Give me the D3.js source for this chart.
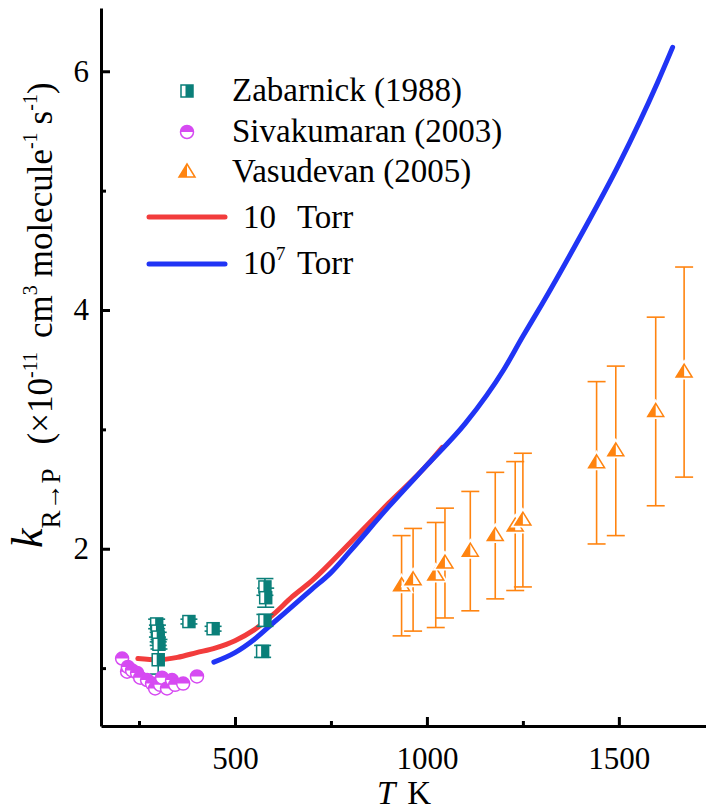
<!DOCTYPE html>
<html>
<head>
<meta charset="utf-8">
<script src="https://cdn.jsdelivr.net/npm/d3@7"></script>
<style>
  body { margin: 0; background: #fff; }
  svg { display: block; }
</style>
</head>
<body>
<svg id="chart" width="706" height="811" style="font-family: 'Liberation Serif', Tinos, 'Times New Roman', serif"></svg>
<script>
// Axis ticks
const xMajorTicks = [500, 1000, 1500];
const xMinorTicks = [250, 750, 1250];
const yMajorTicks = [2, 4, 6];
const yMinorTicks = [1, 3, 5];

// Calculated rate constant, 10 Torr
const lowPT = [247, 300, 350, 400, 450, 500, 550, 600, 650, 700, 800, 900, 1000, 1040];
const lowPK = [1.08, 1.07, 1.09, 1.13, 1.17, 1.23, 1.32, 1.45, 1.60, 1.73, 2.05, 2.38, 2.70, 2.85];

// Calculated rate constant, 10^7 Torr
const highPT = [445, 500, 550, 600, 650, 700, 750, 800, 900, 1000, 1100, 1200, 1250, 1300, 1400, 1500, 1600, 1640];
const highPK = [1.05, 1.13, 1.24, 1.38, 1.52, 1.66, 1.80, 1.98, 2.35, 2.70, 3.05, 3.50, 3.78, 4.05, 4.62, 5.22, 5.90, 6.20];

// Zabarnick (1988)
const zabT   = [296, 298, 300, 302, 300, 380, 443, 578, 580, 578, 572];
const zabK   = [1.37, 1.31, 1.26, 1.20, 1.07, 1.39, 1.33, 1.68, 1.59, 1.40, 1.14];
const zabErr = [0.04, 0.05, 0.04, 0.04, 0.12, 0.02, 0.02, 0.07, 0.08, 0.05, 0.05];

// Sivakumaran (2003)
const sivT = [206, 219, 221, 232, 245, 253, 271, 284, 292, 305, 310, 323, 336, 344, 365, 401];
const sivK = [1.08, 0.97, 1.01, 0.98, 0.96, 0.92, 0.90, 0.87, 0.83, 0.86, 0.92, 0.83, 0.90, 0.86, 0.87, 0.93];

// Vasudevan (2005)
const vasT   = [934, 964, 1023, 1047, 1113, 1178, 1230, 1250, 1442, 1492, 1596, 1670];
const vasK   = [1.69, 1.74, 1.78, 1.88, 1.98, 2.11, 2.19, 2.24, 2.72, 2.82, 3.15, 3.48];
const vasErr = [0.42, 0.43, 0.44, 0.46, 0.50, 0.53, 0.54, 0.56, 0.68, 0.71, 0.79, 0.88];

const teal = "#0a7f79", magenta = "#d64af2", orange = "#ff8410";
const red = "#f23c3c", blue = "#2034f5";
const serif = '"Liberation Serif"';

const svg = d3.select("#chart");
const x = d3.scaleLinear().domain([151, 1727]).range([101, 706]);
const y = d3.scaleLinear().domain([0.515, 6.53]).range([726, 8]);
const fmt = d3.format("d");

// Axes: thick black lines, ticks pointing into the plot
function styleAxis(g) {
  g.attr("font-family", null);
  g.select(".domain").attr("stroke", "#000").attr("stroke-width", 3);
  g.selectAll(".tick line").attr("stroke", "#000").attr("stroke-width", 3);
  g.selectAll(".tick text").style("font-family", serif).attr("font-size", 31).attr("fill", "#000");
}
svg.append("g").attr("transform", "translate(0,726)")
  .call(d3.axisBottom(x).tickValues(xMajorTicks).tickFormat(fmt).tickSizeInner(-9).tickSizeOuter(0).tickPadding(21))
  .call(styleAxis);
svg.append("g").attr("transform", "translate(0,726)")
  .call(d3.axisBottom(x).tickValues(xMinorTicks).tickSizeInner(-5).tickSizeOuter(0).tickFormat(""))
  .call(styleAxis).call(g => g.select(".domain").remove());
svg.append("g").attr("transform", "translate(101,0)")
  .call(d3.axisLeft(y).tickValues(yMajorTicks).tickFormat(fmt).tickSizeInner(-9).tickSizeOuter(0).tickPadding(12))
  .call(styleAxis);
svg.append("g").attr("transform", "translate(101,0)")
  .call(d3.axisLeft(y).tickValues(yMinorTicks).tickSizeInner(-5).tickSizeOuter(0).tickFormat(""))
  .call(styleAxis).call(g => g.select(".domain").remove());

// Curves
const line = d3.line().x(d => x(d[0])).y(d => y(d[1])).curve(d3.curveMonotoneX);
svg.append("path").datum(d3.zip(lowPT, lowPK)).attr("d", line)
  .attr("fill", "none").attr("stroke", red).attr("stroke-width", 5).attr("stroke-linecap", "round");
svg.append("path").datum(d3.zip(highPT, highPK)).attr("d", line)
  .attr("fill", "none").attr("stroke", blue).attr("stroke-width", 5).attr("stroke-linecap", "round");

// Marker shapes
function squareMarker(g, color) {
  g.append("rect").attr("x", -6).attr("y", -6).attr("width", 12).attr("height", 12)
    .attr("fill", "#fff").attr("stroke", color).attr("stroke-width", 1.5);
  g.append("rect").attr("x", -1.5).attr("y", -6).attr("width", 7.5).attr("height", 12).attr("fill", color);
}
function circleMarker(g, color) {
  const r = 6.5;
  g.append("circle").attr("r", r).attr("fill", "#fff").attr("stroke", color).attr("stroke-width", 1.5);
  g.append("path").attr("d", `M${-r},0A${r},${r} 0 0 1 ${r},0Z`).attr("fill", color);
}
function triangleMarker(g, color) {
  const w = 8, top = -8, bot = 5;
  g.append("path").attr("d", `M0,${top}L${w},${bot}L${-w},${bot}Z`)
    .attr("fill", "#fff").attr("stroke", "#fff").attr("stroke-width", 5);
  g.append("path").attr("d", `M0,${top}L${w},${bot}L${-w},${bot}Z`)
    .attr("fill", "#fff").attr("stroke", color).attr("stroke-width", 1.5);
  g.append("path").attr("d", `M0,${top}L0,${bot}L${-w},${bot}Z`).attr("fill", color);
}

// Error bars
function errorBars(T, K, E, color, cap) {
  const g = svg.append("g").attr("stroke", color).attr("stroke-width", 1.6).attr("fill", "none");
  T.forEach((t, i) => {
    const cx = x(t), y0 = y(K[i] - E[i]), y1 = y(K[i] + E[i]);
    g.append("line").attr("x1", cx).attr("x2", cx).attr("y1", y0).attr("y2", y1);
    g.append("line").attr("x1", cx - cap).attr("x2", cx + cap).attr("y1", y0).attr("y2", y0);
    g.append("line").attr("x1", cx - cap).attr("x2", cx + cap).attr("y1", y1).attr("y2", y1);
  });
}

errorBars(zabT, zabK, zabErr, teal, 8.5);
errorBars(vasT, vasK, vasErr, orange, 9);

sivT.forEach((t, i) => circleMarker(svg.append("g").attr("transform", `translate(${x(t)},${y(sivK[i])})`), magenta));
zabT.forEach((t, i) => squareMarker(svg.append("g").attr("transform", `translate(${x(t)},${y(zabK[i])})`), teal));
vasT.forEach((t, i) => triangleMarker(svg.append("g").attr("transform", `translate(${x(t)},${y(vasK[i])})`), orange));

// Legend
const legend = svg.append("g");
const addText = (parent, px, py, size, str) =>
  parent.append("text").attr("x", px).attr("y", py).attr("font-size", size)
    .style("font-family", serif).attr("fill", "#000").text(str);

const legendRows = [
  { label: "Zabarnick (1988)", draw: squareMarker, color: teal, cy: 91 },
  { label: "Sivakumaran (2003)", draw: circleMarker, color: magenta, cy: 132 },
  { label: "Vasudevan (2005)", draw: triangleMarker, color: orange, cy: 172 }
];
legendRows.forEach(r => {
  r.draw(legend.append("g").attr("transform", `translate(187,${r.cy})`), r.color);
  addText(legend, 232, r.cy + 10, 33, r.label);
});
legend.append("line").attr("x1", 149).attr("x2", 225).attr("y1", 217).attr("y2", 217)
  .attr("stroke", red).attr("stroke-width", 5).attr("stroke-linecap", "round");
legend.append("line").attr("x1", 149).attr("x2", 225).attr("y1", 264).attr("y2", 264)
  .attr("stroke", blue).attr("stroke-width", 5).attr("stroke-linecap", "round");
addText(legend, 243, 228, 33, "10");
addText(legend, 297, 228, 33, "Torr");
const l2 = addText(legend, 243, 274, 33, null);
l2.append("tspan").text("10");
l2.append("tspan").attr("font-size", 19).attr("dy", -14).text("7");
addText(legend, 297, 274, 33, "Torr");

// Axis titles
const xt = addText(svg, 404, 804, 33, null).attr("text-anchor", "middle");
xt.append("tspan").style("font-style", "italic").text("T");
xt.append("tspan").attr("dx", 12).text("K");

const yt = addText(svg, 0, 0, 35, null).attr("transform", "translate(52,548) rotate(-90)");
yt.append("tspan").style("font-style", "italic").attr("font-size", 44).attr("dy", -10).text("k");
yt.append("tspan").attr("font-size", 27).attr("dy", 18).text("R\u2192P");
yt.append("tspan").attr("dx", 24).attr("dy", -8).text("(\u00d710");
yt.append("tspan").attr("font-size", 20).attr("dy", -15).text("-11");
yt.append("tspan").attr("dx", 14).attr("dy", 15).text("cm");
yt.append("tspan").attr("font-size", 20).attr("dy", -15).text("3");
yt.append("tspan").attr("dx", 8).attr("dy", 15).text("molecule");
yt.append("tspan").attr("font-size", 20).attr("dy", -15).text("-1");
yt.append("tspan").attr("dx", 8).attr("dy", 15).text("s");
yt.append("tspan").attr("font-size", 20).attr("dy", -15).text("-1");
yt.append("tspan").attr("dy", 15).text(")");
</script>
</body>
</html>
